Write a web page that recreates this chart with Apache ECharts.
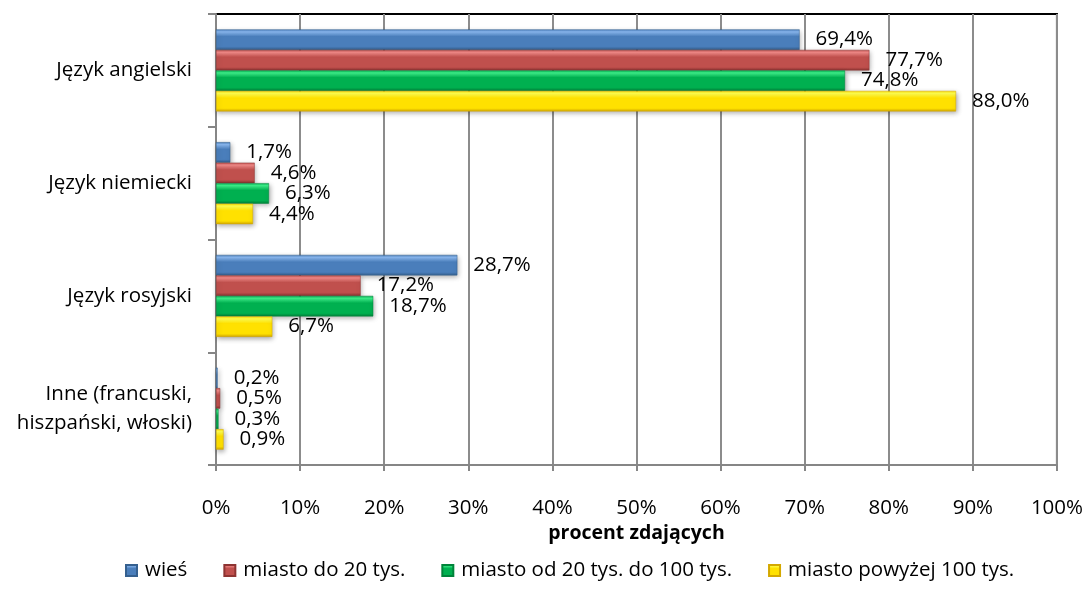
<!DOCTYPE html>
<html>
<head>
<meta charset="utf-8">
<script src="https://cdn.jsdelivr.net/npm/echarts@6/dist/echarts.min.js"></script>
<style>
  html, body { margin: 0; padding: 0; background: #fff; }
  #chart { width: 1086px; height: 590px; }
</style>
</head>
<body>
<div id="chart"></div>
<script>
const categories = ['Język angielski', 'Język niemiecki', 'Język rosyjski', 'Inne (francuski,\nhiszpański, włoski)']
const seriesNames = ['wieś', 'miasto do 20 tys.', 'miasto od 20 tys. do 100 tys.', 'miasto powyżej 100 tys.']
const wies = [69.4, 1.7, 28.7, 0.2]
const miasto20 = [77.7, 4.6, 17.2, 0.5]
const miasto100 = [74.8, 6.3, 18.7, 0.3]
const miastoPow100 = [88.0, 4.4, 6.7, 0.9]
const xTicks = [0, 10, 20, 30, 40, 50, 60, 70, 80, 90, 100]

// light / mid / dark shades for the bevelled excel look
const shades = [
  ['#8ab8f0', '#4a7ebb', '#35608f'],
  ['#f28a88', '#c0504d', '#8e3432'],
  ['#3ef08a', '#00b050', '#00843a'],
  ['#ffff50', '#ffe100', '#d4a800'],
]
const values = [wies, miasto20, miasto100, miastoPow100]
const font = '"Open Sans", Lato, sans-serif'
const fs = 20.5

function fill(s) {
  return new echarts.graphic.LinearGradient(0, 0, 0, 1, [
    { offset: 0, color: s[1] },
    { offset: 0.12, color: s[0] },
    { offset: 0.35, color: s[1] },
    { offset: 0.85, color: s[1] },
    { offset: 1, color: s[2] },
  ])
}

let myChart = echarts.init(document.getElementById('chart'))
myChart.setOption({
  animation: false,
  textStyle: { fontFamily: font },
  grid: {
    left: 216, right: 28, top: 14, bottom: 125,
    show: true, borderColor: '#000', borderWidth: 2, backgroundColor: '#fff'
  },
  legend: {
    top: 555,
    left: 120,
    itemWidth: 11, itemHeight: 11, itemGap: 36,
    icon: 'rect',
    textStyle: { fontFamily: font, fontSize: fs, color: '#000', padding: [0, 0, 0, 3] },
    data: seriesNames
  },
  xAxis: {
    type: 'value',
    min: 0, max: 100, interval: 10,
    name: 'procent zdających',
    nameLocation: 'middle',
    nameGap: 57,
    nameTextStyle: { fontFamily: font, fontSize: 19.5, fontWeight: 'bold', color: '#000' },
    axisLine: { show: true, lineStyle: { color: '#868686', width: 2 } },
    axisTick: { show: true, length: 6, lineStyle: { color: '#868686', width: 2 } },
    splitLine: { show: true, lineStyle: { color: '#8c8c8c', width: 2 } },
    axisLabel: {
      fontSize: fs, color: '#000', margin: 33,
      formatter: v => xTicks.includes(v) ? v + '%' : ''
    }
  },
  yAxis: {
    type: 'category',
    inverse: true,
    data: categories,
    axisLine: { show: true, lineStyle: { color: '#868686', width: 2 } },
    axisTick: { show: true, length: 8, lineStyle: { color: '#868686', width: 2 } },
    axisLabel: { fontSize: fs, color: '#000', margin: 24, lineHeight: 29, align: 'right' }
  },
  series: seriesNames.map((name, i) => ({
    name: name,
    type: 'bar',
    data: values[i],
    barWidth: 20.5,
    barGap: '0%',
    itemStyle: {
      color: fill(shades[i]),
      borderColor: shades[i][2],
      borderWidth: 0.5,
      shadowBlur: 5,
      shadowColor: 'rgba(0,0,0,0.35)',
      shadowOffsetY: 2,
      shadowOffsetX: 1
    },
    label: {
      show: true,
      position: 'right',
      distance: 16,
      fontFamily: font,
      fontSize: fs,
      color: '#000',
      formatter: p => p.value.toFixed(1).replace('.', ',') + '%'
    }
  }))
})
</script>
</body>
</html>
